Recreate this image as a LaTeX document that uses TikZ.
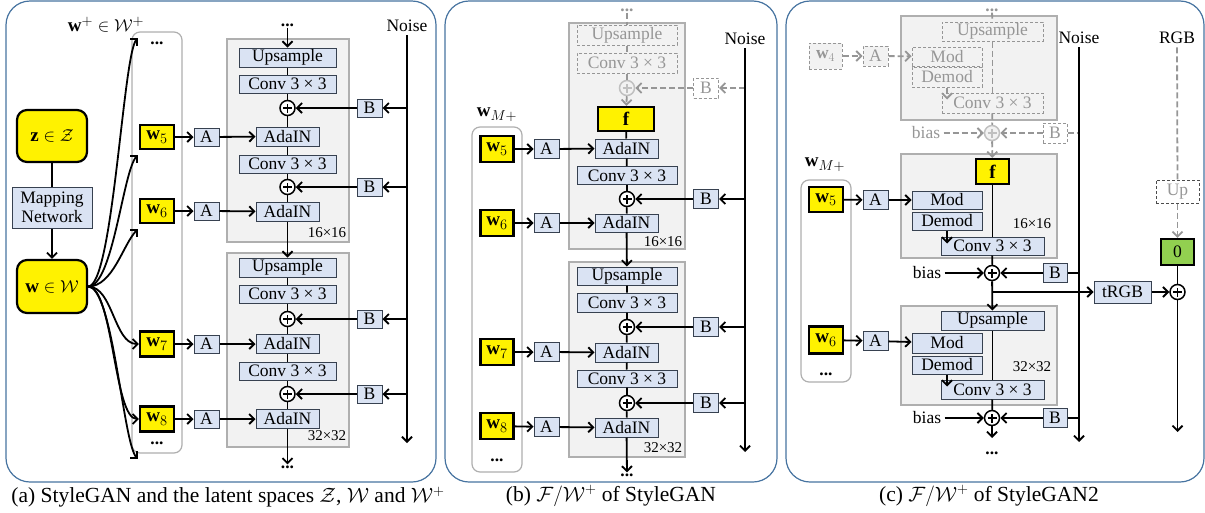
\documentclass[tikz,border=0pt]{standalone}
\usepackage{fontspec}
\setmainfont{Liberation Serif}
\usetikzlibrary{arrows.meta,calc,positioning}
\definecolor{boxblue}{RGB}{218,227,243}
\definecolor{boxline}{RGB}{55,65,80}
\definecolor{blkgray}{RGB}{242,242,242}
\definecolor{blkline}{RGB}{175,175,175}
\definecolor{fadegray}{RGB}{150,150,150}
\definecolor{panelblue}{RGB}{70,115,160}
\definecolor{rgbgreen}{RGB}{146,208,80}
\newcommand{\bxfont}{\fontsize{17.5}{19}\selectfont}
\newcommand{\wfont}{\fontsize{19}{21}\selectfont}
\newcommand{\szfont}{\fontsize{15}{16}\selectfont}
\newcommand{\cpfont}{\fontsize{21.5}{24}\selectfont}

\begin{document}
\begin{tikzpicture}[x=1pt,y=-1pt,>={Straight Barb[length=5pt,width=10pt]},
  every node/.style={font=\bxfont},
  sz/.style n args={2}{minimum width=#1pt,minimum height=#2pt},
  conn/.style={line width=1.8pt},
  fade/.style={draw=fadegray,line width=1.8pt,dash pattern=on 6pt off 3pt},
  blk/.style={draw=boxline,fill=boxblue,line width=1pt,inner sep=0pt},
  ghost/.style={draw=fadegray,fill=blkgray,line width=1pt,dash pattern=on 3pt off 2pt,text=fadegray,inner sep=0pt},
  ybox/.style={draw,fill=yellow,line width=2.2pt,inner sep=0pt,font=\wfont},
  grp/.style={draw=blkline,fill=blkgray,line width=1.2pt},
  wgrp/.style={draw=blkline,fill=white,rounded corners=8pt,line width=1.2pt},
  panel/.style={draw=panelblue,rounded corners=24pt,line width=1.2pt},
  dots/.style={font=\bxfont\bfseries,inner sep=1pt},
  addop/.style={circle,draw=#1,fill=white,line width=1.5pt,minimum size=15pt,inner sep=0pt,
    path picture={\draw[#1,line width=1.4pt] (path picture bounding box.center) +(-4.5pt,0) -- +(4.5pt,0)
      (path picture bounding box.center) +(0,-4.5pt) -- +(0,4.5pt);}},
  addop/.default=black]
\useasboundingbox (0,0) rectangle (1205,512);

% panels
\node[panel,sz={430}{481}] (pa) at (221,241.5) {};
\node[panel,sz={332}{481}] (pb) at (611,241.5) {};
\node[panel,sz={418}{481}] (pc) at (995,241.5) {};

% ---------------- (a) StyleGAN ----------------
\node[wgrp,sz={50}{421}] (wset) at (157,242.5) {};
\node[grp,sz={122}{203}] (g16) at (288,140.5) {};
\node[grp,sz={122}{194}] (g32) at (288,350) {};

\node[ybox,rounded corners=10pt,sz={70}{52}] (z) at (52,136) {$\mathbf{z}\in\mathcal{Z}$};
\node[blk,sz={80}{41},align=center] (map) at (52,207.5) {Mapping\\Network};
\node[ybox,rounded corners=10pt,sz={70}{53}] (w) at (52,286.5) {$\mathbf{w}\in\mathcal{W}$};
\draw[conn] (z) -- (map);
\draw[conn,->] (map) -- (w);

\node[font=\wfont] (wpl) at (106,25) {$\mathbf{w}^{+}\in\mathcal{W}^{+}$};
\node[dots] (wd1) at (157,43) {...};
\node[dots] (wd2) at (157,443) {...};
\node[ybox,sz={34}{24}] (w5) at (157,137) {$\mathbf{w}_5$};
\node[ybox,sz={34}{24}] (w6) at (157,211) {$\mathbf{w}_6$};
\node[ybox,sz={34}{25}] (w7) at (157,344) {$\mathbf{w}_7$};
\node[ybox,sz={34}{25}] (w8) at (157,419) {$\mathbf{w}_8$};
\coordinate (t1) at (138,38);
\coordinate (t2) at (138,155);
\coordinate (t3) at (138,229);
\coordinate (t6) at (138,459);
\draw[conn,->] (w.east) .. controls +(25,0) and +(-15,15) .. (t1);
\draw[conn,->] (w.east) .. controls +(25,0) and +(-15,15) .. (t2);
\draw[conn,->] (w.east) .. controls +(25,0) and +(-15,15) .. (t3);
\draw[conn,->] (w.east) .. controls +(25,0) and +(-25,0) .. (w7.west);
\draw[conn,->] (w.east) .. controls +(25,0) and +(-25,0) .. (w8.west);
\draw[conn,->] (w.east) .. controls +(25,0) and +(-15,-15) .. (t6);

\node[blk,sz={25}{18}] (a5) at (206.5,137) {A};
\node[blk,sz={25}{18}] (a6) at (206.5,211) {A};
\node[blk,sz={25}{18}] (a7) at (206.5,344) {A};
\node[blk,sz={25}{18}] (a8) at (206.5,419) {A};

\node[dots] (dta) at (287.5,25) {...};
\node[blk,sz={97}{19}] (up1) at (287.5,57.5) {Upsample};
\node[blk,sz={97}{18}] (cv1) at (287.5,84) {Conv 3 × 3};
\node[addop] (p1) at (287.5,108) {};
\node[blk,sz={63}{19}] (ad1) at (287.5,136.5) {AdaIN};
\node[blk,sz={97}{18}] (cv2) at (287.5,164) {Conv 3 × 3};
\node[addop] (p2) at (287.5,187) {};
\node[blk,sz={63}{19}] (ad2) at (287.5,211.5) {AdaIN};
\node[font=\szfont] (r16) at (327,233) {16×16};
\node[blk,sz={97}{19}] (up2) at (287.5,267.5) {Upsample};
\node[blk,sz={97}{18}] (cv3) at (287.5,294) {Conv 3 × 3};
\node[addop] (p3) at (287.5,319) {};
\node[blk,sz={63}{19}] (ad3) at (287.5,344) {AdaIN};
\node[blk,sz={97}{18}] (cv4) at (287.5,371) {Conv 3 × 3};
\node[addop] (p4) at (287.5,394) {};
\node[blk,sz={63}{19}] (ad4) at (287.5,419) {AdaIN};
\node[font=\szfont] (r32) at (327,436) {32×32};
\node[dots] (dba) at (287.5,467) {...};

\node[blk,sz={25}{18}] (b1) at (369.5,108) {B};
\node[blk,sz={25}{18}] (b2) at (369.5,187) {B};
\node[blk,sz={25}{18}] (b3) at (369.5,319) {B};
\node[blk,sz={25}{18}] (b4) at (369.5,394) {B};
\node (nza) at (407,26) {Noise};
\coordinate (nzaend) at (407,443);

\draw[conn,->] (dta) -- (up1);
\draw[conn] (up1) -- (cv1) -- (p1) -- (ad1) -- (cv2) -- (p2) -- (ad2);
\draw[conn,->] (ad2) -- (up2);
\draw[conn] (up2) -- (cv3) -- (p3) -- (ad3) -- (cv4) -- (p4) -- (ad4);
\draw[conn,->] (ad4) -- (dba);
\draw[conn,->] (nza) -- (nzaend);
\draw[conn,->] (nza |- b1) -- (b1);
\draw[conn,->] (nza |- b2) -- (b2);
\draw[conn,->] (nza |- b3) -- (b3);
\draw[conn,->] (nza |- b4) -- (b4);
\draw[conn,->] (b1) -- (p1);
\draw[conn,->] (b2) -- (p2);
\draw[conn,->] (b3) -- (p3);
\draw[conn,->] (b4) -- (p4);
\draw[conn,->] (w5) -- (a5);
\draw[conn,->] (w6) -- (a6);
\draw[conn,->] (w7) -- (a7);
\draw[conn,->] (w8) -- (a8);
\draw[conn,->] (a5) -- (ad1);
\draw[conn,->] (a6) -- (ad2);
\draw[conn,->] (a7) -- (ad3);
\draw[conn,->] (a8) -- (ad4);

% ---------------- (b) F/W+ of StyleGAN ----------------
\node[wgrp,sz={50}{345}] (wsetb) at (497,299.5) {};
\node[grp,sz={116}{226}] (g16b) at (627,136) {};
\node[grp,sz={116}{195}] (g32b) at (627,359.5) {};

\node[dots,text=fadegray] (dtb) at (627,10) {...};
\node[ghost,sz={100}{20}] (upb0) at (627,35) {Upsample};
\node[ghost,sz={100}{20}] (cvb0) at (627,63) {Conv 3 × 3};
\node[addop=fadegray!60,fill=blkgray] (pb0) at (627,88) {};
\node[ghost,sz={25}{20},fill=white] (bb0) at (706,88) {B};
\node[ybox,sz={56}{24}] (fb) at (626,119) {$\mathbf{f}$};
\node[blk,sz={63}{19}] (adb1) at (626.5,148.5) {AdaIN};
\node[blk,sz={100}{18}] (cvb1) at (627,175.5) {Conv 3 × 3};
\node[addop] (pb1) at (627,199) {};
\node[blk,sz={63}{18}] (adb2) at (626.5,223) {AdaIN};
\node[font=\szfont] (rb16) at (663,242) {16×16};
\node[blk,sz={100}{18}] (upb2) at (627,276) {Upsample};
\node[blk,sz={100}{19}] (cvb2) at (627,302.5) {Conv 3 × 3};
\node[addop] (pb2) at (627,327) {};
\node[blk,sz={63}{19}] (adb3) at (626.5,352.5) {AdaIN};
\node[blk,sz={100}{17}] (cvb3) at (627,378.5) {Conv 3 × 3};
\node[addop] (pb3) at (627,403) {};
\node[blk,sz={63}{19}] (adb4) at (626.5,427.5) {AdaIN};
\node[font=\szfont] (rb32) at (663,448) {32×32};
\node[dots] (dbb) at (627,475) {...};

\node[font=\wfont] (wmb) at (497,115) {$\mathbf{w}_{M+}$};
\node[ybox,sz={33}{26}] (wb5) at (497,149) {$\mathbf{w}_5$};
\node[ybox,sz={33}{26}] (wb6) at (497,223) {$\mathbf{w}_6$};
\node[ybox,sz={33}{26}] (wb7) at (497,352) {$\mathbf{w}_7$};
\node[ybox,sz={33}{26}] (wb8) at (497,426) {$\mathbf{w}_8$};
\node[dots] (wdb) at (497,460) {...};
\node[blk,sz={25}{19}] (ab5) at (546.5,149) {A};
\node[blk,sz={25}{19}] (ab6) at (546.5,223) {A};
\node[blk,sz={25}{19}] (ab7) at (546.5,352) {A};
\node[blk,sz={25}{19}] (ab8) at (546.5,427) {A};

\node[blk,sz={25}{19}] (bb1) at (706,199) {B};
\node[blk,sz={25}{19}] (bb2) at (706,327) {B};
\node[blk,sz={25}{19}] (bb3) at (706,403) {B};
\node (nzb) at (745,39) {Noise};
\coordinate (nzbend) at (745,452);

\draw[fade] (dtb) -- (upb0);
\draw[fade] (upb0) -- (cvb0) -- (pb0);
\draw[fade,->] (pb0) -- (fb);
\draw[fade,->] (nzb |- bb0) -- (bb0);
\draw[fade,->] (bb0) -- (pb0);
\draw[conn] (fb) -- (adb1) -- (cvb1) -- (pb1) -- (adb2);
\draw[conn,->] (adb2) -- (upb2);
\draw[conn] (upb2) -- (cvb2) -- (pb2) -- (adb3) -- (cvb3) -- (pb3) -- (adb4);
\draw[conn,->] (adb4) -- (dbb);
\draw[conn,->] (nzb) -- (nzbend);
\draw[conn,->] (nzb |- bb1) -- (bb1);
\draw[conn,->] (nzb |- bb2) -- (bb2);
\draw[conn,->] (nzb |- bb3) -- (bb3);
\draw[conn,->] (bb1) -- (pb1);
\draw[conn,->] (bb2) -- (pb2);
\draw[conn,->] (bb3) -- (pb3);
\draw[conn,->] (wb5) -- (ab5);
\draw[conn,->] (wb6) -- (ab6);
\draw[conn,->] (wb7) -- (ab7);
\draw[conn,->] (wb8) -- (ab8);
\draw[conn,->] (ab5) -- (adb1);
\draw[conn,->] (ab6) -- (adb2);
\draw[conn,->] (ab7) -- (adb3);
\draw[conn,->] (ab8) -- (adb4);

% ---------------- (c) F/W+ of StyleGAN2 ----------------
\node[wgrp,sz={50}{202}] (wsetc) at (826,281) {};
\node[grp,sz={156}{104}] (g8c) at (979,68) {};
\node[grp,sz={156}{104}] (g16c) at (979,206) {};
\node[grp,sz={156}{99}] (g32c) at (979,355.5) {};

\node[dots,text=fadegray] (dtc) at (992,10) {...};
\node[ghost,sz={101}{19}] (upc0) at (992.5,31.5) {Upsample};
\node[ghost,sz={33}{26}] (wc4) at (825.5,56) {$\mathbf{w}_4$};
\node[ghost,sz={25}{20}] (ac4) at (875.5,56) {A};
\node[ghost,sz={70}{19}] (modc0) at (947,56.5) {Mod};
\node[ghost,sz={70}{20}] (demc0) at (947,77) {Demod};
\node[ghost,sz={101}{20}] (cvc0) at (992.5,103) {Conv 3 × 3};
\node[addop=fadegray!60,fill=blkgray] (pc0) at (992,133) {};
\node[text=fadegray] (biasc0) at (926,133) {bias};
\node[ghost,sz={24}{20},fill=white] (bc0) at (1055,133) {B};
\node[ybox,sz={33}{25}] (fc) at (992.5,171.5) {$\mathbf{f}$};

\node[font=\wfont] (wmc) at (825,165) {$\mathbf{w}_{M+}$};
\node[ybox,sz={34}{25}] (wc5) at (826,199.5) {$\mathbf{w}_5$};
\node[ybox,sz={34}{27}] (wc6) at (826,340) {$\mathbf{w}_6$};
\node[dots] (wdc) at (826,374) {...};
\node[blk,sz={25}{19}] (ac5) at (875.5,200) {A};
\node[blk,sz={25}{19}] (ac6) at (875.5,341) {A};

\node[blk,sz={70}{18}] (modc1) at (947,200) {Mod};
\node[blk,sz={70}{18}] (demc1) at (947,221) {Demod};
\node[blk,sz={103}{18}] (cvc1) at (992.5,246) {Conv 3 × 3};
\node[font=\szfont] (rc16) at (1032,224) {16×16};
\node[addop] (pc1) at (992,273) {};
\node (biasc1) at (927,273) {bias};
\node[blk,sz={24}{19}] (bc1) at (1055,273) {B};
\coordinate (brc) at (992,292);

\node[blk,sz={103}{19}] (upc2) at (992.5,320.5) {Upsample};
\node[blk,sz={70}{20}] (modc2) at (947,343) {Mod};
\node[blk,sz={70}{18}] (demc2) at (947,365) {Demod};
\node[blk,sz={103}{19}] (cvc2) at (992.5,389.5) {Conv 3 × 3};
\node[font=\szfont] (rc32) at (1032,367) {32×32};
\node[addop] (pc2) at (992,418) {};
\node (biasc2) at (927,418) {bias};
\node[blk,sz={24}{19}] (bc2) at (1055,418) {B};
\coordinate (endc) at (992,438);
\node[dots] (dbc) at (992,453) {...};

\node (nzc) at (1079,38) {Noise};
\coordinate (nzcend) at (1079,442);
\node (rgb) at (1177,38) {RGB};
\node[ghost,sz={43}{23},draw=black!70,fill=white] (upr) at (1177.5,191.5) {Up};
\node[draw,fill=rgbgreen,line width=2.2pt,inner sep=0pt,sz={33}{26}] (zero) at (1177.5,252) {0};
\node[blk,sz={57}{22}] (trgb) at (1122.5,292) {tRGB};
\node[addop] (pr) at (1177.5,292) {};
\coordinate (endr) at (1177.5,432);

\draw[fade] (dtc) -- (upc0);
\draw[fade] (upc0) -- (cvc0);
\draw[fade,->] (wc4) -- (ac4);
\draw[fade,->] (ac4) -- (modc0);
\draw[fade,->,shorten >=-7pt] (demc0.south) -- (demc0.south |- cvc0.north);
\draw[fade] (cvc0) -- (pc0);
\draw[fade,->] (biasc0) -- (pc0);
\draw[fade,->] (bc0) -- (pc0);
\draw[fade] (bc0) -- (bc0 -| nzc);
\draw[fade,->] (pc0) -- (fc);

\draw[conn] (fc) -- (cvc1);
\draw[conn,->] (wc5) -- (ac5);
\draw[conn,->] (ac5) -- (modc1);
\draw[conn,->,shorten >=-7pt] (demc1.south) -- (demc1.south |- cvc1.north);
\draw[conn] (cvc1) -- (pc1);
\draw[conn,->] (biasc1) -- (pc1);
\draw[conn,->] (bc1) -- (pc1);
\draw[conn] (bc1) -- (bc1 -| nzc);
\draw[conn,->] (pc1) -- (upc2);
\draw[conn,->] (nzc) -- (nzcend);
\draw[conn,->] (brc) -- (trgb);
\draw[conn,->] (trgb) -- (pr);
\draw[conn] (zero) -- (pr);
\draw[conn,->] (pr) -- (endr);
\draw[fade] (rgb) -- (upr);
\draw[fade,->] (upr) -- (zero);

\draw[conn] (upc2) -- (cvc2);
\draw[conn,->] (wc6) -- (ac6);
\draw[conn,->] (ac6) -- (modc2);
\draw[conn,->,shorten >=-7pt] (demc2.south) -- (demc2.south |- cvc2.north);
\draw[conn] (cvc2) -- (pc2);
\draw[conn,->] (biasc2) -- (pc2);
\draw[conn,->] (bc2) -- (pc2);
\draw[conn] (bc2) -- (bc2 -| nzc);
\draw[conn,->] (pc2) -- (endc);

% captions
\node[font=\cpfont] (capa) at (228,497) {(a) StyleGAN and the latent spaces $\mathcal{Z}$, $\mathcal{W}$ and $\mathcal{W}^{+}$};
\node[font=\cpfont] (capb) at (611,496) {(b) $\mathcal{F}/\mathcal{W}^{+}$ of StyleGAN};
\node[font=\cpfont] (capc) at (989,496) {(c) $\mathcal{F}/\mathcal{W}^{+}$ of StyleGAN2};
\end{tikzpicture}
\end{document}
